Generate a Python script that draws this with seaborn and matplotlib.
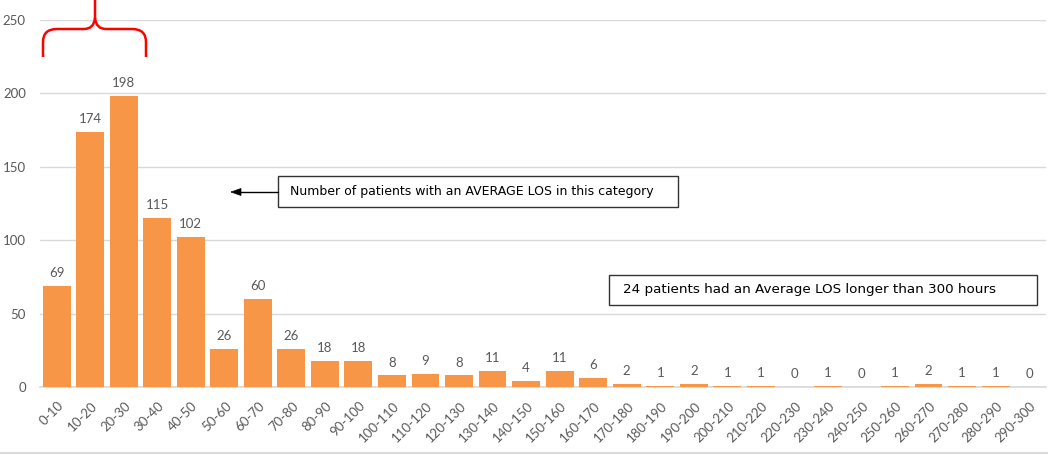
import pandas as pd
import matplotlib.pyplot as plt
import seaborn as sns
from matplotlib.path import Path
from matplotlib.patches import PathPatch, Rectangle
from matplotlib.lines import Line2D
from matplotlib.transforms import ScaledTranslation

# LOS buckets (hours) and patient counts
bins = ["0-10", "10-20", "20-30", "30-40", "40-50", "50-60", "60-70", "70-80",
        "80-90", "90-100", "100-110", "110-120", "120-130", "130-140", "140-150",
        "150-160", "160-170", "170-180", "180-190", "190-200", "200-210",
        "210-220", "220-230", "230-240", "240-250", "250-260", "260-270",
        "270-280", "280-290", "290-300"]
patients = [69, 174, 198, 115, 102, 26, 60, 26, 18, 18, 8, 9, 8, 11, 4, 11, 6,
            2, 1, 2, 1, 1, 0, 1, 0, 1, 2, 1, 1, 0]

note_main = "Number of patients with an AVERAGE LOS in this category"
note_tail = "24 patients had an Average LOS longer than 300 hours"

df = pd.DataFrame({"bin": bins, "patients": patients})

sns.set_theme(style="white")
plt.rcParams["font.family"] = ["Lato", "DejaVu Sans"]
grey = "#595959"
W, H = 1048, 455

fig = plt.figure(figsize=(W / 100, H / 100), dpi=100)
ax = fig.add_axes([0.038, 0.149, 0.96, 0.807])

sns.barplot(data=df, x="bin", y="patients", color="#F79646", saturation=1,
            width=0.83, linewidth=0, edgecolor="none", ax=ax)
for p in ax.patches:
    p.set_zorder(3)

ax.set_ylim(0, 250)
ax.set_xlim(-0.5, 29.5)
ax.set_yticks(range(0, 251, 50))
ax.yaxis.grid(True, color="#D9D9D9", linewidth=1)
ax.set_axisbelow(True)
ax.set_xlabel("")
ax.set_ylabel("")
for s in ["top", "right", "left"]:
    ax.spines[s].set_visible(False)
ax.spines["bottom"].set_color("#D9D9D9")
ax.tick_params(axis="both", length=0, colors=grey, labelsize=9.5)
ax.tick_params(axis="y", pad=10)
ax.tick_params(axis="x", pad=12)
# rotated labels, nudged a little right like Excel places them
nudge = ScaledTranslation(0.05, 0, fig.dpi_scale_trans)
for lbl in ax.get_xticklabels():
    lbl.set_rotation(45)
    lbl.set_ha("right")
    lbl.set_va("center")
    lbl.set_rotation_mode("anchor")
    lbl.set_transform(lbl.get_transform() + nudge)

for c in ax.containers:
    ax.bar_label(c, labels=[str(v) for v in patients], padding=5,
                 color=grey, fontsize=9.5)

# helper: pixel position (from top-left) to figure fraction
def px(x, y):
    return (x / W, 1 - y / H)

# red brace over the first three buckets
pts = [(43, 57), (43, 42), (43, 29), (57, 29), (84, 29), (94, 29), (95, 18),
       (95, 0), (95, 18), (96, 29), (106, 29), (132, 29), (146, 29),
       (146, 42), (146, 57)]
codes = [Path.MOVETO, Path.LINETO, Path.CURVE3, Path.CURVE3, Path.LINETO,
         Path.CURVE3, Path.CURVE3, Path.LINETO, Path.MOVETO, Path.CURVE3,
         Path.CURVE3, Path.LINETO, Path.CURVE3, Path.CURVE3, Path.LINETO]
brace = Path([px(*p) for p in pts], codes)
fig.add_artist(PathPatch(brace, fill=False, edgecolor="red", linewidth=1.8,
                         transform=fig.transFigure, capstyle="butt"))

# text boxes
def text_box(x0, y0, x1, y1, tx, text, size):
    fig.add_artist(Rectangle(px(x0, y1), (x1 - x0) / W, (y1 - y0) / H,
                             transform=fig.transFigure, facecolor="white",
                             edgecolor="#333333", linewidth=1))
    fig.text(*px(tx, (y0 + y1) / 2), text, ha="left", va="center",
             fontsize=size, family=["DejaVu Sans"], color="black")

text_box(278, 176, 678, 207, 290, note_main, 9)
fig.add_artist(Line2D([278 / W, 240 / W], [1 - 192 / H] * 2,
                      transform=fig.transFigure, color="black", lw=1))
fig.add_artist(PathPatch(Path([px(231, 192), px(241, 188.5), px(241, 195.5),
                               px(231, 192)]),
                         transform=fig.transFigure, facecolor="black",
                         edgecolor="black", lw=0.5))
text_box(609, 275, 1037, 305, 623, note_tail, 9.7)

# chart frame line at the bottom
fig.add_artist(Line2D([0, 1], [1 - 452.5 / H] * 2, transform=fig.transFigure,
                      color="#D9D9D9", lw=1.5))

fig.savefig("out.png", dpi=100)
